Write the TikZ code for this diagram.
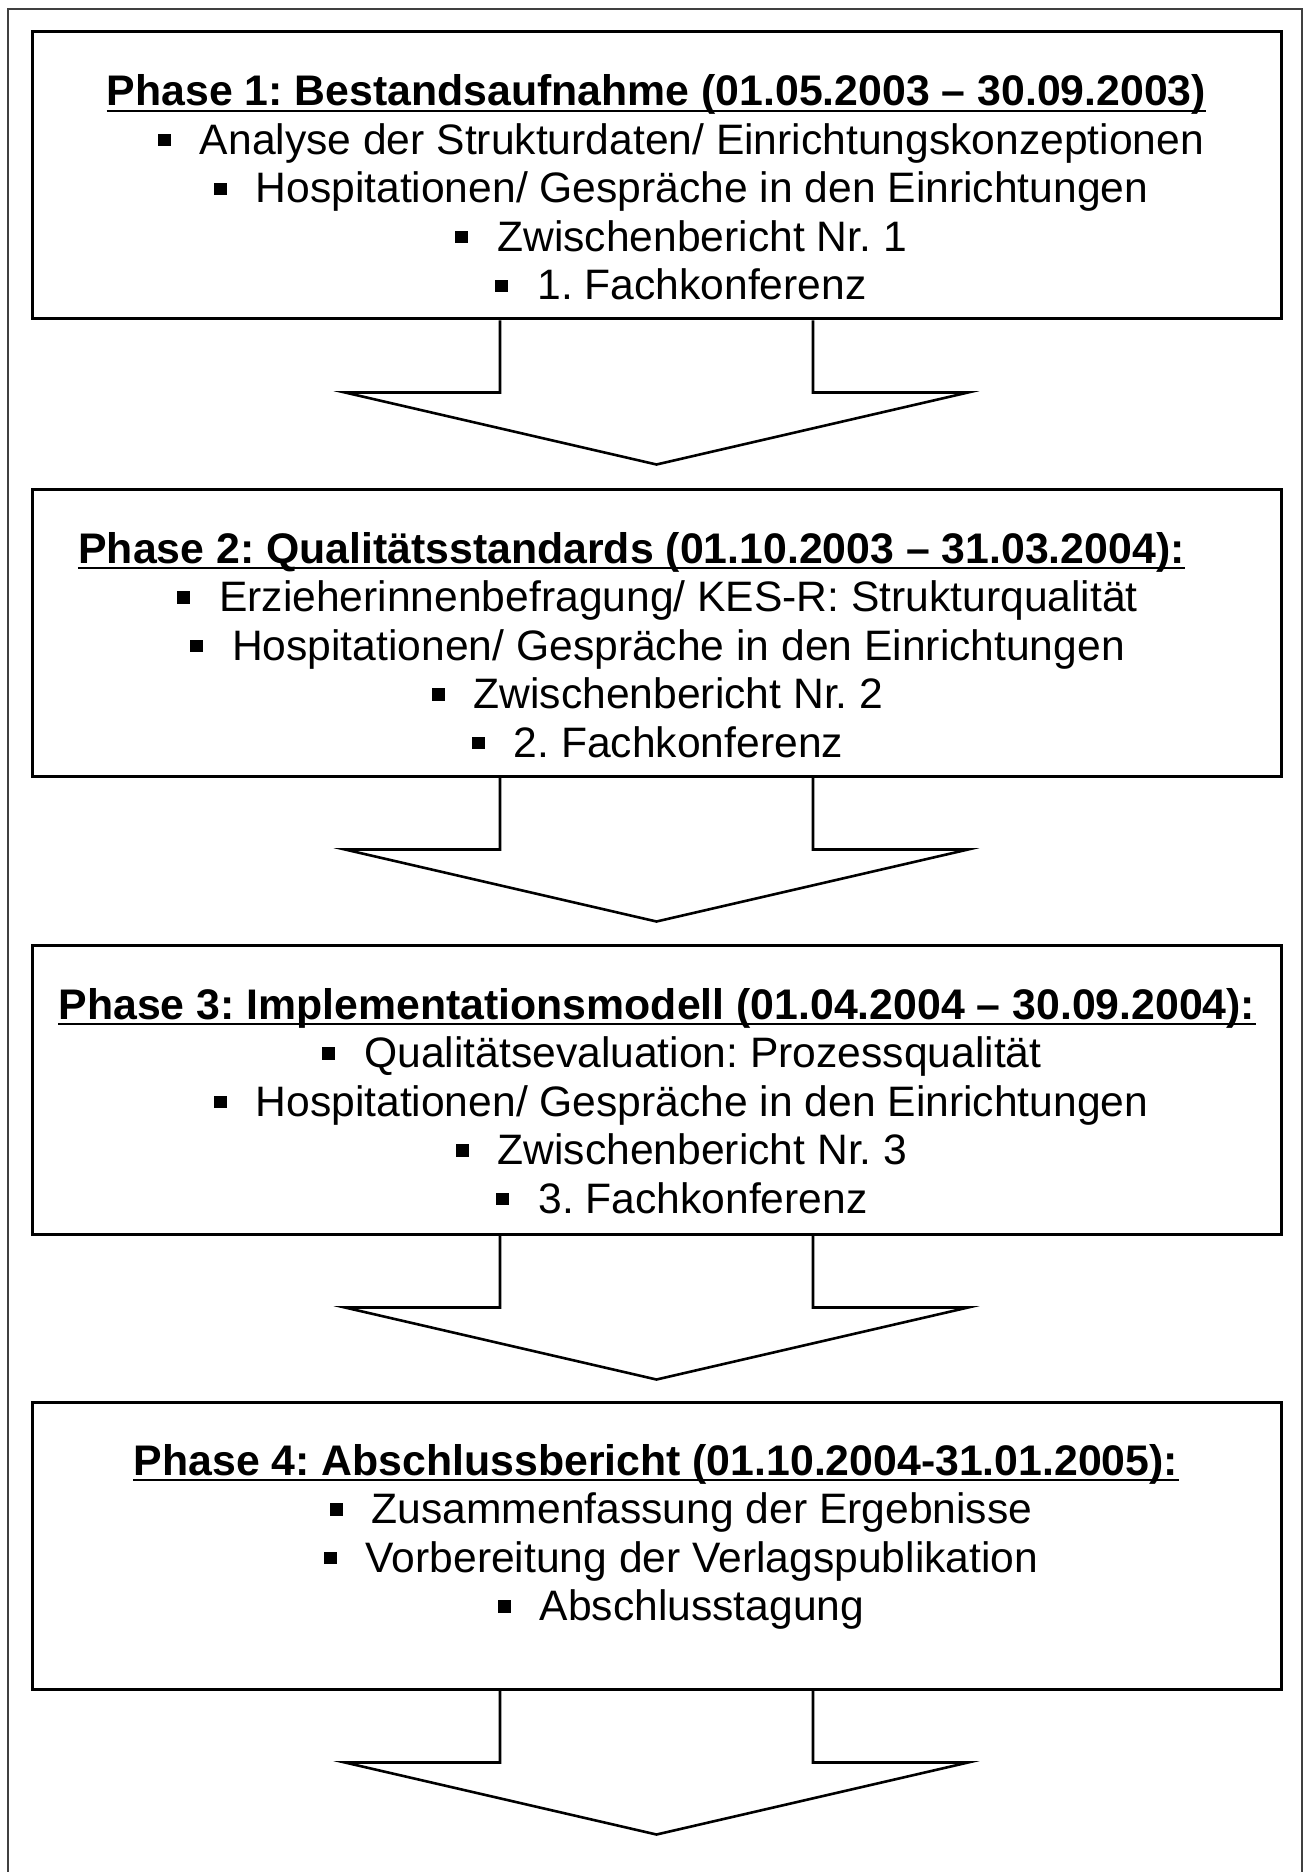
\documentclass[tikz,border=0pt]{standalone}
\usepackage{fontspec}
\setmainfont{Liberation Sans}
\usetikzlibrary{calc}
\frenchspacing
\tikzset{
  phasebox/.style={draw, line width=1.5pt, minimum width=624.5pt, minimum height=143.5pt, inner sep=0pt},
  titletext/.style={inner sep=0pt, anchor=base, font=\fontsize{21.4pt}{24pt}\selectfont\bfseries},
  itemtext/.style={inner sep=0pt, anchor=base, font=\fontsize{21.3pt}{24pt}\selectfont},
  blockarrow/.style={draw, line width=1.3pt, line join=miter},
  frameline/.style={draw=black!75, line width=0.8pt},
  ulline/.style={line width=0.75pt}
}
\newcommand{\bitem}[1]{\rule[4pt]{6.5pt}{6.2pt}\hspace{14.5pt}#1}
\begin{document}
\begin{tikzpicture}[x=0.5pt,y=-0.5pt]
\useasboundingbox (0,0) rectangle (1309,1872);
\fill[white] (0,0) rectangle (1309,1872);
\draw[frameline] (8,1880) -- (8,9) -- (1302,9) -- (1302,1880);

% boxes
\node[phasebox] (b1) at (656.5,175.5) {};
\node[phasebox] (b2) at (656.5,632.5) {};
\node[phasebox, minimum height=144.5pt] (b3) at (656.5,1089.5) {};
\node[phasebox] (b4) at (656.5,1545.5) {};

% block arrows
\foreach \b in {b1,b2,b3,b4}{
  \draw[blockarrow] ($(\b.south)+(-156.5,0)$) -- ($(\b.south)+(-156.5,72)$)
    -- ($(\b.south)+(-311.5,72)$) -- ($(\b.south)+(0,144)$)
    -- ($(\b.south)+(311.5,72)$) -- ($(\b.south)+(156.5,72)$)
    -- ($(\b.south)+(156.5,0)$);
}

% Phase 1
\node[titletext] (t1) at (656.5,106) {Phase 1: Bestandsaufnahme (01.05.2003 – 30.09.2003)};
\draw[ulline] ([yshift=-2.5pt]t1.base west) -- ([yshift=-2.5pt]t1.base east);
\node[itemtext] (i11) at (681,154.5) {\bitem{Analyse der Strukturdaten/ Einrichtungskonzeptionen}};
\node[itemtext] (i12) at (681,203) {\bitem{Hospitationen/ Gespräche in den Einrichtungen}};
\node[itemtext] (i13) at (681,251.5) {\bitem{Zwischenbericht Nr. 1}};
\node[itemtext] (i14) at (681,300) {\bitem{1. Fachkonferenz}};

% Phase 2
\node[titletext] (t2) at (631.5,563) {Phase 2: Qualitätsstandards (01.10.2003 – 31.03.2004):};
\draw[ulline] ([yshift=-2.5pt]t2.base west) -- ([yshift=-2.5pt]t2.base east);
\node[itemtext] (i21) at (657.5,611.5) {\bitem{Erzieherinnenbefragung/ KES-R: Strukturqualität}};
\node[itemtext] (i22) at (657.5,660) {\bitem{Hospitationen/ Gespräche in den Einrichtungen}};
\node[itemtext] (i23) at (657.5,708.5) {\bitem{Zwischenbericht Nr. 2}};
\node[itemtext] (i24) at (657.5,757) {\bitem{2. Fachkonferenz}};

% Phase 3
\node[titletext] (t3) at (657,1019) {Phase 3: Implementationsmodell (01.04.2004 – 30.09.2004):};
\draw[ulline] ([yshift=-2.5pt]t3.base west) -- ([yshift=-2.5pt]t3.base east);
\node[itemtext] (i31) at (682,1067.5) {\bitem{Qualitätsevaluation: Prozessqualität}};
\node[itemtext] (i32) at (681,1116) {\bitem{Hospitationen/ Gespräche in den Einrichtungen}};
\node[itemtext] (i33) at (681.5,1164.5) {\bitem{Zwischenbericht Nr. 3}};
\node[itemtext] (i34) at (682,1213) {\bitem{3. Fachkonferenz}};

% Phase 4
\node[titletext] (t4) at (656,1475) {Phase 4: Abschlussbericht (01.10.2004-31.01.2005):};
\draw[ulline] ([yshift=-2.5pt]t4.base west) -- ([yshift=-2.5pt]t4.base east);
\node[itemtext] (i41) at (681,1523.5) {\bitem{Zusammenfassung der Ergebnisse}};
\node[itemtext] (i42) at (681,1572) {\bitem{Vorbereitung der Verlagspublikation}};
\node[itemtext] (i43) at (681,1620.5) {\bitem{Abschlusstagung}};
\end{tikzpicture}
\end{document}
